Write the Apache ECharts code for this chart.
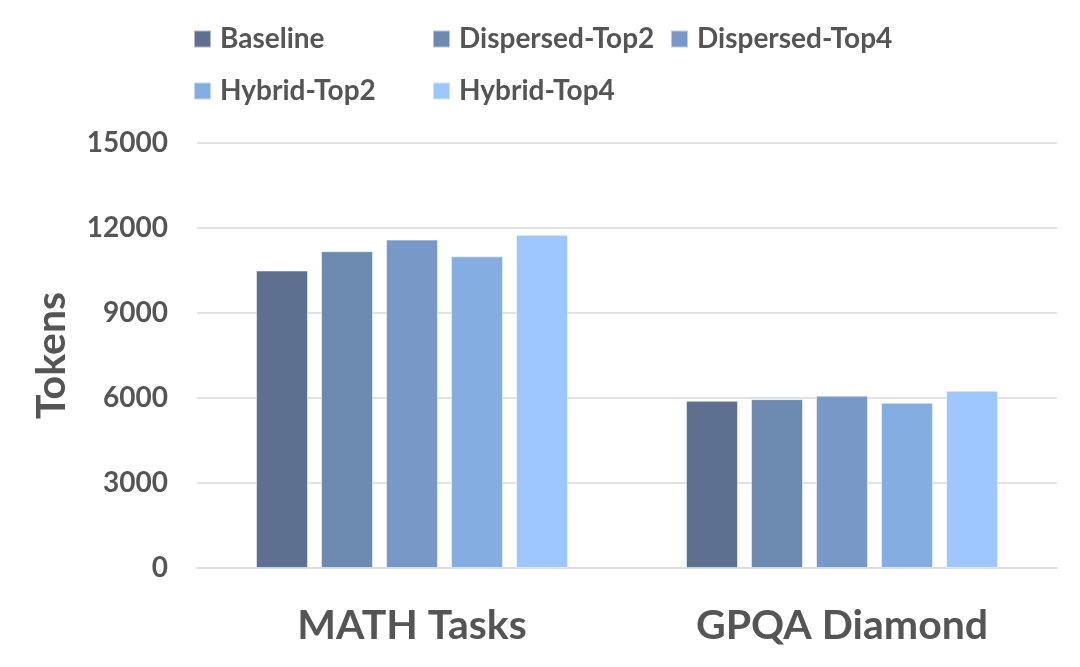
<!DOCTYPE html>
<html>
<head>
<meta charset="utf-8">
<script src="https://cdn.jsdelivr.net/npm/echarts@6/dist/echarts.min.js"></script>
<style>
html,body{margin:0;padding:0;background:#fff;}
#c{width:1080px;height:667px;}
</style>
</head>
<body>
<div id="c"></div>
<script>
const categories = ['MATH Tasks', 'GPQA Diamond'];
const seriesNames = ['Baseline', 'Dispersed-Top2', 'Dispersed-Top4', 'Hybrid-Top2', 'Hybrid-Top4'];
const baseline = [10500, 5900];
const dispersedTop2 = [11180, 5960];
const dispersedTop4 = [11590, 6080];
const hybridTop2 = [11000, 5830];
const hybridTop4 = [11760, 6260];
const yTicks = [0, 3000, 6000, 9000, 12000, 15000];

const values = [baseline, dispersedTop2, dispersedTop4, hybridTop2, hybridTop4];
const colors = ['#5e708f', '#6d8ab0', '#7899c8', '#84ade2', '#9dc7fe'];
const txt = '#555555';
const font = 'Lato';

const legendPos = [
  {left: 193, top: 25},
  {left: 432, top: 25},
  {left: 670, top: 25},
  {left: 193, top: 77},
  {left: 432, top: 77}
];

const chart = echarts.init(document.getElementById('c'), null, {renderer: 'canvas'});
chart.setOption({
  animation: false,
  backgroundColor: '#fff',
  color: colors,
  legend: seriesNames.map((n, i) => ({
    data: [n],
    left: legendPos[i].left,
    top: legendPos[i].top,
    icon: 'rect',
    itemWidth: 17,
    itemHeight: 17,
    padding: 0,
    textStyle: {color: txt, fontFamily: font, fontWeight: 'bold', fontSize: 28, lineHeight: 28, padding: [0, 0, 0, 4]}
  })),
  grid: {left: 197, right: 23, top: 143, bottom: 99, containLabel: false},
  xAxis: {
    type: 'category',
    data: categories,
    axisLine: {lineStyle: {color: '#d9d9d9', width: 1.5}},
    axisTick: {show: false},
    axisLabel: {color: txt, fontFamily: font, fontWeight: 'bold', fontSize: 41, margin: 37}
  },
  yAxis: {
    type: 'value',
    min: yTicks[0],
    max: yTicks[yTicks.length - 1],
    interval: 3000,
    name: 'Tokens',
    nameLocation: 'middle',
    nameGap: 125,
    nameTextStyle: {color: txt, fontFamily: font, fontWeight: 'bold', fontSize: 41},
    axisLine: {show: false},
    axisTick: {show: false},
    splitLine: {lineStyle: {color: '#d9d9d9', width: 1.5}},
    axisLabel: {color: txt, fontFamily: font, fontWeight: 'bold', fontSize: 28, margin: 29, formatter: v => String(v)}
  },
  series: seriesNames.map((n, i) => ({
    name: n,
    type: 'bar',
    data: values[i],
    barWidth: 52,
    barGap: '25%',
    itemStyle: {color: colors[i], borderColor: 'rgba(255,255,255,0.5)', borderWidth: 1}
  }))
});
</script>
</body>
</html>
